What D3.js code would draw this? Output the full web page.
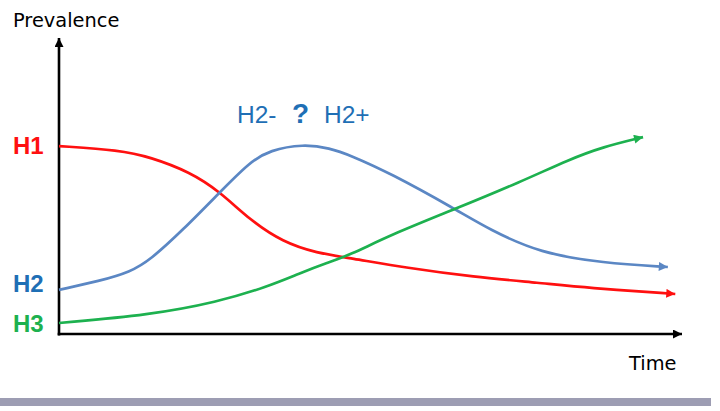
<!DOCTYPE html>
<html><head><meta charset="utf-8">
<script src="https://cdn.jsdelivr.net/npm/d3@7"></script>
<style>body{margin:0;background:#fff}svg{display:block}</style>
</head><body>
<script>
// Data (time 0..100, prevalence 0..100)
const seriesNames = ["H1", "H2", "H3"];
const h1Time = [0, 9.8, 14.7, 21.1, 26, 30.8, 36.1, 41.6, 46.9, 56.1, 66.8, 77.6, 85.2, 99.4];
const h1Value = [64.8, 63.4, 61, 55.9, 49, 39.3, 31.7, 27.9, 26.2, 22.8, 19.7, 17.6, 15.9, 13.8];
const h2Time = [0, 6.6, 11.5, 14.7, 20, 26, 30.8, 34, 39.4, 43.7, 46.9, 53.4, 63.9, 69.5, 77.6, 87.7, 98.2];
const h2Value = [15.2, 18.3, 21.4, 25.5, 35.9, 49, 59.3, 63.4, 65.5, 64.1, 61.7, 55.5, 43.1, 35.9, 27.9, 24.5, 23.1];
const h3Time = [0, 14.7, 25.5, 33.5, 38.9, 43.2, 46.9, 53.4, 63.9, 74.4, 82.4, 87.7, 94.2];
const h3Value = [3.8, 6.6, 11, 16.2, 21, 24.5, 27.2, 34.1, 43.1, 52.4, 60.3, 64.5, 67.9];
const yAxisTitle = "Prevalence";
const xAxisTitle = "Time";
const annotation = ["H2-", "?", "H2+"];

const W = 720, H = 411;
const svg = d3.select("body").append("svg").attr("width", W).attr("height", H);
const x = d3.scaleLinear().domain([0, 100]).range([59, 679]);
const y = d3.scaleLinear().domain([0, 100]).range([334, 44]);

const colors = {H1: "#ff1010", H2: "#5b87c4", H3: "#1db14f"};
const labelColors = {H1: "#ff1010", H2: "#1f6fb5", H3: "#1db14f"};

const defs = svg.append("defs");
function marker(id, color, w, h) {
  defs.append("marker").attr("id", id).attr("viewBox", "0 0 10 10")
    .attr("refX", 10).attr("refY", 5).attr("markerUnits", "userSpaceOnUse")
    .attr("markerWidth", w).attr("markerHeight", h).attr("orient", "auto")
    .append("path").attr("d", "M0,0L10,5L0,10Z").attr("fill", color);
}
marker("ax", "#000", 11, 9);
Object.entries(colors).forEach(([k, c]) => marker("m" + k, c, 11, 9));

// bottom gray bar
svg.append("rect").attr("x", 0).attr("y", 398).attr("width", 711).attr("height", 8).attr("fill", "#9d9db3");

// axes
svg.append("line").attr("x1", x(0)).attr("x2", x(0)).attr("y1", y(0) + 1.5).attr("y2", 38)
  .attr("stroke", "#000").attr("stroke-width", 2.6).attr("marker-end", "url(#ax)");
svg.append("line").attr("x1", x(0) - 1.3).attr("x2", 682).attr("y1", y(0)).attr("y2", y(0))
  .attr("stroke", "#000").attr("stroke-width", 2.6).attr("marker-end", "url(#ax)");

const line = d3.line().x(d => x(d[0])).y(d => y(d[1])).curve(d3.curveBasis);
const data = {
  H1: h1Time.map((t, i) => [t, h1Value[i]]),
  H2: h2Time.map((t, i) => [t, h2Value[i]]),
  H3: h3Time.map((t, i) => [t, h3Value[i]])
};
seriesNames.forEach(k => {
  svg.append("path").attr("d", line(data[k])).attr("fill", "none")
    .attr("stroke", colors[k]).attr("stroke-width", 2.7)
    .attr("marker-end", "url(#m" + k + ")");
});

// series labels at start value
const labelBase = {H1: 154, H2: 292, H3: 332};
seriesNames.forEach(k => {
  svg.append("text").attr("x", 13).attr("y", labelBase[k]).text(k)
    .attr("font-family", "Liberation Sans, Arial, sans-serif").attr("font-weight", "bold")
    .attr("font-size", 24).attr("fill", labelColors[k]);
});

svg.append("text").attr("x", 13).attr("y", 27).text(yAxisTitle)
  .attr("font-family", "DejaVu Sans, sans-serif").attr("font-size", 19.4).attr("fill", "#000");
svg.append("text").attr("x", 629).attr("y", 370).text(xAxisTitle)
  .attr("font-family", "DejaVu Sans, sans-serif").attr("font-size", 19.4).attr("fill", "#000");

const ann = svg.append("g").attr("font-family", "Liberation Sans, Arial, sans-serif").attr("fill", "#1f6fb5");
ann.append("text").attr("x", 237).attr("y", 123).attr("font-size", 24.5).text(annotation[0]);
ann.append("text").attr("x", 292).attr("y", 123).attr("font-size", 28).attr("font-weight", "bold").text(annotation[1]);
ann.append("text").attr("x", 324).attr("y", 123).attr("font-size", 24.5).text(annotation[2]);
</script>
</body></html>
